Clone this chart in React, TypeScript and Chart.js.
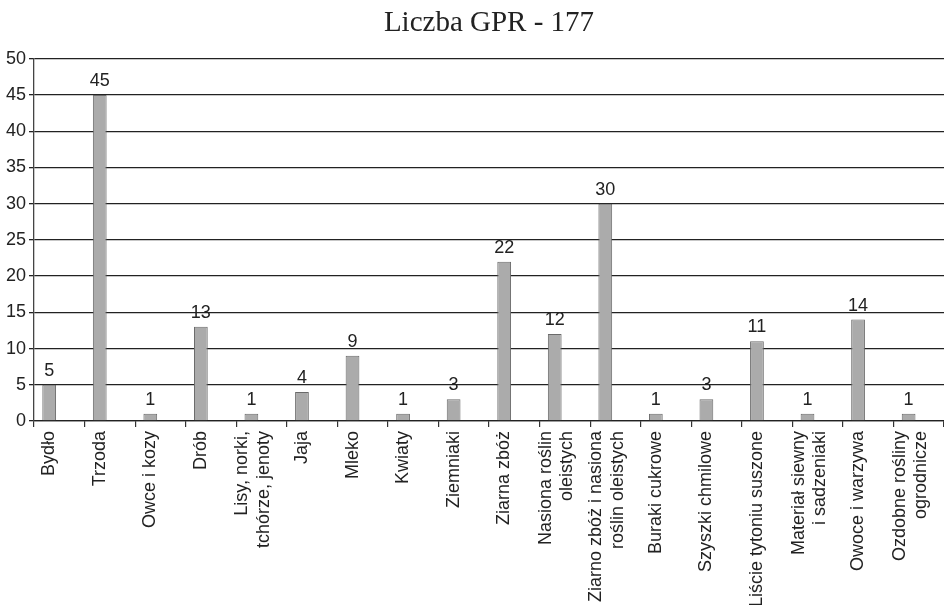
import React, { useEffect, useRef } from "react";
import { Chart, registerables } from "chart.js";

Chart.register(...registerables);

const chartTitle = "Liczba GPR - 177";

const categories: (string | string[])[] = [
  "Bydło",
  "Trzoda",
  "Owce i kozy",
  "Drób",
  ["Lisy, norki,", "tchórze, jenoty"],
  "Jaja",
  "Mleko",
  "Kwiaty",
  "Ziemniaki",
  "Ziarna zbóż",
  ["Nasiona roślin", "oleistych"],
  ["Ziarno zbóż i nasiona", "roślin oleistych"],
  "Buraki cukrowe",
  "Szyszki chmilowe",
  "Liście tytoniu suszone",
  ["Materiał siewny", "i sadzeniaki"],
  "Owoce i warzywa",
  ["Ozdobne rośliny", "ogrodnicze"],
];

const values: number[] = [5, 45, 1, 13, 1, 4, 9, 1, 3, 22, 12, 30, 1, 3, 11, 1, 14, 1];

const yMin = 0;
const yMax = 50;
const yStep = 5;

const SANS = "'Liberation Sans', Arial, sans-serif";
const SERIF = "'Liberation Serif', 'Times New Roman', serif";

const valueLabels = {
  id: "valueLabels",
  afterDatasetsDraw(chart: any) {
    const ctx = chart.ctx;
    const meta = chart.getDatasetMeta(0);
    ctx.save();
    ctx.font = `18px ${SANS}`;
    ctx.fillStyle = "#222";
    ctx.textAlign = "center";
    ctx.textBaseline = "alphabetic";
    meta.data.forEach((bar: any, i: number) => {
      ctx.fillText(String(values[i]), bar.x, bar.y - 9);
    });
    ctx.restore();
  },
};

// centre two-line rotated category labels on their bar
const centerMultiline = {
  id: "centerMultiline",
  beforeDraw(chart: any) {
    const sc = chart.scales.x;
    const items = sc.getLabelItems(chart.chartArea);
    items.forEach((item: any) => {
      if (Array.isArray(item.label) && !item.__shifted) {
        item.options.translation[0] -= 9;
        item.__shifted = true;
      }
    });
  },
};

export default function App() {
  const ref = useRef<HTMLCanvasElement | null>(null);

  useEffect(() => {
    if (!ref.current) return;
    const chart = new Chart(ref.current, {
      type: "bar",
      data: {
        labels: categories,
        datasets: [
          {
            label: "GPR",
            data: values,
            backgroundColor: "#ababab",
            borderColor: "#6a6a6a",
            borderWidth: 1,
            barPercentage: 0.68,
            categoryPercentage: 0.8,
          },
          {
            label: "",
            data: categories.map(() => null),
            barPercentage: 0.68,
            categoryPercentage: 0.8,
          },
        ],
      },
      options: {
        responsive: false,
        animation: false,
        layout: { padding: { left: 3, right: 0, top: 0, bottom: 0 } },
        plugins: {
          legend: { display: false },
          tooltip: { enabled: false },
          title: {
            display: true,
            fullSize: false,
            text: chartTitle,
            color: "#222",
            font: { family: SERIF, size: 29, weight: "normal" },
            padding: { top: 6, bottom: 18 },
          },
        },
        scales: {
          x: {
            offset: true,
            grid: {
              display: true,
              drawOnChartArea: false,
              drawTicks: true,
              tickLength: 6,
              offset: true,
              color: "#333",
              lineWidth: 1.2,
            },
            border: { display: true, color: "#222", width: 1.3 },
            ticks: {
              autoSkip: false,
              minRotation: 90,
              maxRotation: 90,
              labelOffset: -10,
              padding: 4,
              color: "#222",
              font: { family: SANS, size: 18, lineHeight: 1.2 },
            },
            afterFit: (axis: any) => {
              axis.paddingRight = 0;
              axis.paddingLeft = 0;
              axis.height = 184;
            },
          },
          y: {
            min: yMin,
            max: yMax,
            ticks: {
              stepSize: yStep,
              padding: 3,
              color: "#222",
              font: { family: SANS, size: 18 },
            },
            grid: {
              color: "#222",
              lineWidth: 1.3,
              tickLength: 5,
            },
            border: { display: true, color: "#444", width: 1.3 },
          },
        },
      },
      plugins: [valueLabels, centerMultiline],
    });
    return () => chart.destroy();
  }, []);

  return (
    <div style={{ position: "fixed", left: 0, top: 0, width: 944, height: 605, background: "#fff" }}>
      <canvas ref={ref} width={944} height={605} style={{ display: "block" }} />
    </div>
  );
}
